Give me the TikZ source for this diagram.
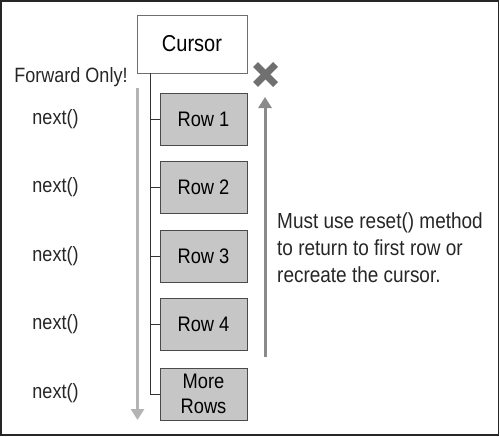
\documentclass[tikz,border=0pt]{standalone}
\usepackage{fontspec}
\setmainfont{Liberation Sans}[FakeStretch=0.87]
\usetikzlibrary{arrows.meta,calc}
\definecolor{rowfill}{HTML}{C6C6C6}
\definecolor{rowedge}{HTML}{4A4A4A}
\definecolor{linkcol}{HTML}{333333}
\definecolor{fwdcol}{HTML}{B4B4B4}
\definecolor{backcol}{HTML}{8A8A8A}
\definecolor{crosscol}{HTML}{707070}
\begin{document}
\begin{tikzpicture}[x=1pt,y=-1pt,
  every node/.style={font=\fontsize{20.7}{27}\selectfont, inner sep=0pt},
  cursorbox/.style={draw=rowedge!80, fill=white, line width=0.9pt, minimum width=110pt, minimum height=58pt, font=\fontsize{23}{27}\selectfont},
  rowbox/.style={draw=rowedge, fill=rowfill, line width=0.9pt, minimum width=87pt, minimum height=52pt, align=center, font=\fontsize{21}{25}\selectfont},
  link/.style={draw=linkcol, line width=0.9pt},
  label/.style={text=black!85},
  fwdarrow/.style={draw=fwdcol, line width=3pt, -{Triangle[width=13pt,length=11pt]}},
  backarrow/.style={draw=backcol, line width=3pt, -{Triangle[width=13pt,length=11pt]}},
  crossstroke/.style={draw=crosscol, line width=7pt}
]
\useasboundingbox (0,0) rectangle (500,436);
\draw[black!85, line width=1.5pt] (1,1) rectangle (498.5,435);

\node[cursorbox] (cursor) at (192,44) {Cursor};
\node[rowbox] (row1) at (203.5,119) {Row 1};
\node[rowbox] (row2) at (203.5,187.5) {Row 2};
\node[rowbox] (row3) at (203.5,256.5) {Row 3};
\node[rowbox] (row4) at (203.5,324.5) {Row 4};
\node[rowbox] (more) at (203.5,394) {More\\Rows};

\coordinate (trunk) at (150,0);
\draw[link] (cursor.south -| trunk) |- (more.west);
\foreach \r in {row1,row2,row3,row4}
  \draw[link] (\r.west -| trunk) -- (\r.west);

\node[label] (fwd) at (71,77) {Forward Only!};
\node[label] (n1) at (55.5,119) {next()};
\node[label] (n2) at (55.5,187.5) {next()};
\node[label] (n3) at (55.5,256.5) {next()};
\node[label] (n4) at (55.5,324.5) {next()};
\node[label] (n5) at (55.5,393) {next()};

\coordinate (fwdtop) at (137.5,88);
\coordinate (fwdbot) at (137.5,420);
\draw[fwdarrow] (fwdtop) -- (fwdbot);

\coordinate (backbot) at (265,357);
\coordinate (backtop) at (265,97);
\draw[backarrow] (backbot) -- (backtop);

\coordinate (cross) at (265.5,74.5);
\draw[crossstroke] ($(cross)+(-10,-10)$) -- ($(cross)+(10,10)$);
\draw[crossstroke] ($(cross)+(-10,10)$) -- ($(cross)+(10,-10)$);

\node[label, align=left, anchor=west, font=\fontsize{21.8}{27}\selectfont] (note) at (277,248) {Must use reset() method\\to return to first row or\\recreate the cursor.};
\end{tikzpicture}
\end{document}
